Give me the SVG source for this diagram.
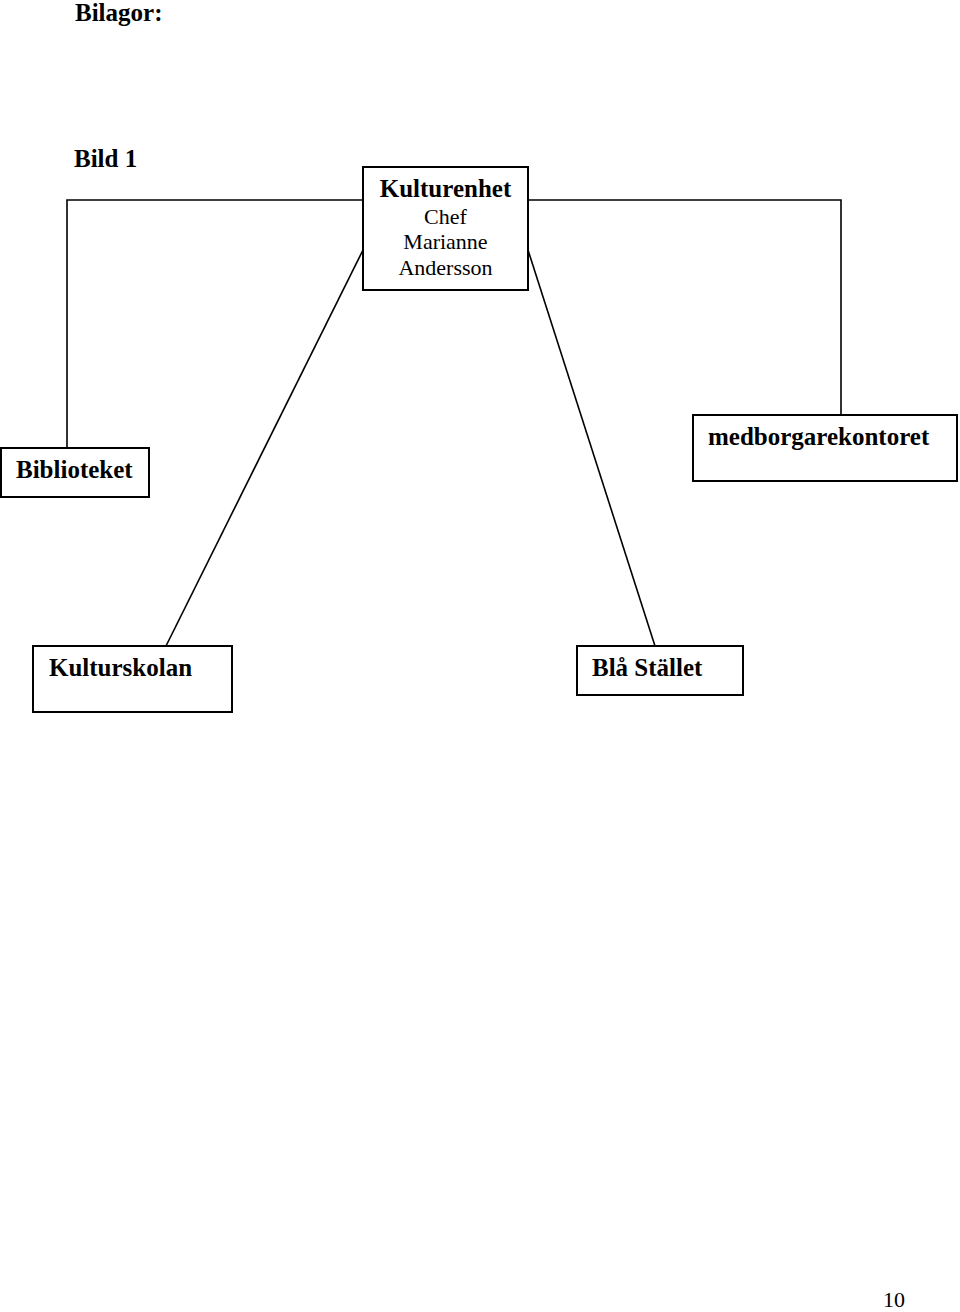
<svg xmlns="http://www.w3.org/2000/svg" width="960" height="1312" viewBox="0 0 960 1312">
<style>
.box{fill:#fff;stroke:#000;stroke-width:2}
.con{fill:none;stroke:#000;stroke-width:1.6}
.b{font-family:"Liberation Serif","Times New Roman",serif;font-weight:bold;font-size:25px;fill:#000}
.r{font-family:"Liberation Serif","Times New Roman",serif;font-size:22px;fill:#000}
</style>
<rect width="960" height="1312" fill="#fff"/>
<text class="b" x="75" y="21" font-size="24">Bilagor:</text>
<text class="b" x="74" y="167" font-size="24">Bild 1</text>
<g id="connectors">
<polyline class="con" points="363,200 67,200 67,448"/>
<polyline class="con" points="528,200 841,200 841,415"/>
<line class="con" x1="363" y1="250" x2="166" y2="646"/>
<line class="con" x1="528" y1="250" x2="655" y2="646"/>
</g>
<g id="kulturenhet">
<rect class="box" x="363" y="167" width="165" height="123"/>
<text class="b" x="445.5" y="197" text-anchor="middle">Kulturenhet</text>
<text class="r" x="445.5" y="224" text-anchor="middle">Chef</text>
<text class="r" x="445.5" y="249" text-anchor="middle">Marianne</text>
<text class="r" x="445.5" y="275" text-anchor="middle">Andersson</text>
</g>
<g id="biblioteket">
<rect class="box" x="1" y="448" width="148" height="49"/>
<text class="b" x="16" y="478">Biblioteket</text>
</g>
<g id="medborgarekontoret">
<rect class="box" x="693" y="415" width="264" height="66"/>
<text class="b" x="708" y="445">medborgarekontoret</text>
</g>
<g id="kulturskolan">
<rect class="box" x="33" y="646" width="199" height="66"/>
<text class="b" x="49" y="676">Kulturskolan</text>
</g>
<g id="bla-stallet">
<rect class="box" x="577" y="646" width="166" height="49"/>
<text class="b" x="592" y="676">Blå Stället</text>
</g>
<text class="r" x="883" y="1307">10</text>
</svg>
